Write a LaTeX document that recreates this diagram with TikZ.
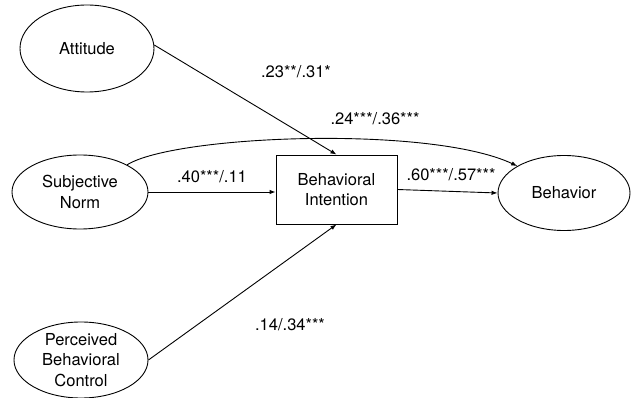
\documentclass[tikz,border=0pt]{standalone}
\usepackage{fontspec}
\setmainfont{TeX Gyre Heros}
\usetikzlibrary{shapes.geometric,arrows.meta}
\begin{document}
\begin{tikzpicture}[x=1pt,y=-1pt,
  every node/.style={font=\fontsize{16.5}{20.5}\selectfont},
  oval/.style={draw,ellipse,line width=0.9pt,inner sep=0pt},
  txt/.style={align=center,inner sep=0pt},
  lbl/.style={inner sep=0pt},
  conn/.style={line width=0.9pt,-{Latex[length=6pt,width=4.5pt]}}]
\useasboundingbox (0,0) rectangle (632,398);
\node[oval,minimum width=134pt,minimum height=87pt] (att) at (87,48.5) {};
\node[txt] (attt) at (att.center) {Attitude};
\node[oval,minimum width=136pt,minimum height=74pt] (sn) at (80,192) {};
\node[txt] (snt) at (sn.center) {Subjective\\Norm};
\node[oval,minimum width=134pt,minimum height=76pt] (pbc) at (81,360) {};
\node[txt] (pbct) at (pbc.center) {Perceived\\Behavioral\\Control};
\node[draw,line width=0.9pt,minimum width=121pt,minimum height=69pt,inner sep=0pt,align=center] (bi) at (336.5,189.5) {Behavioral\\Intention};
\node[oval,minimum width=132pt,minimum height=75pt] (beh) at (564,193) {};
\node[txt] (beht) at (beh.center) {Behavior};
\draw[conn] (att.3) -- (bi.north);
\draw[conn] (sn.east) -- (sn.east -| bi.west);
\draw[conn] (pbc.east) -- (bi.south);
\draw[conn] (bi.east) -- (beh.west);
\draw[conn] (sn.30) .. controls (175,135) and (430,125) .. (beh.150);
\node[lbl] (l1) at (296,72) {.23**/.31*};
\node[lbl] (l2) at (375,119) {.24***/.36***};
\node[lbl] (l3) at (212,177) {.40***/.11};
\node[lbl] (l4) at (451,175) {.60***/.57***};
\node[lbl] (l5) at (290,325) {.14/.34***};
\end{tikzpicture}
\end{document}
